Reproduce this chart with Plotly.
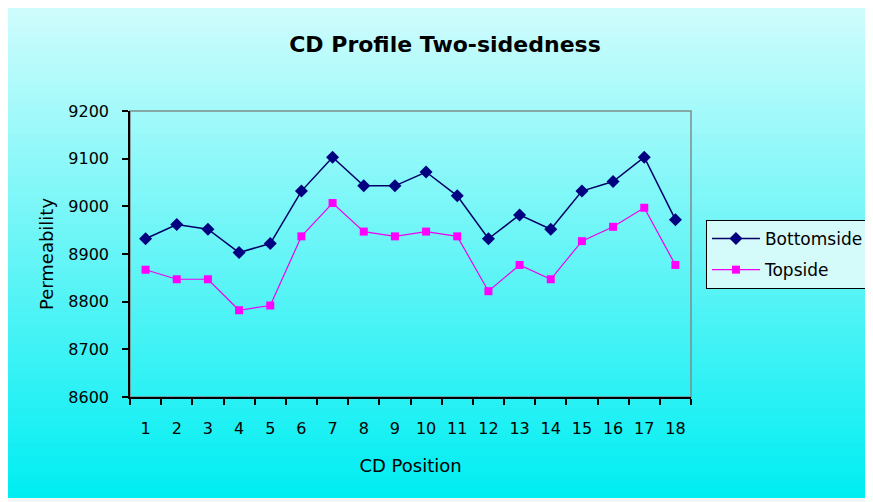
import plotly.graph_objects as go

positions = [str(i) for i in range(1, 19)]
bottomside = [8932, 8962, 8952, 8903, 8922, 9032, 9103, 9043, 9043, 9072, 9022, 8932, 8982, 8952, 9032, 9052, 9103, 8972]
topside = [8867, 8847, 8847, 8782, 8792, 8937, 9007, 8947, 8937, 8947, 8937, 8822, 8877, 8847, 8927, 8957, 8997, 8877]

# page is offset by the 8px body margin; work in figure coordinates
OFF = 8
W, H = 873, 494
L, R, T, B = 130 - OFF, 693 - OFF, 111 - OFF, 397 - OFF

def px_to_paper_x(px):
    return (px - L) / (R - L)

def px_to_paper_y(py):
    return (B - py) / (B - T)

fig = go.Figure()
fig.add_trace(go.Scatter(x=positions, y=bottomside, name="Bottomside", mode="lines+markers",
                         legendgroup="b",
                         line=dict(color="#000066", width=1.5),
                         marker=dict(symbol="diamond", size=10, color="#000080")))
fig.add_trace(go.Scatter(x=positions, y=topside, name="Topside", mode="lines+markers",
                         legendgroup="t",
                         line=dict(color="#ee00ee", width=1.2),
                         marker=dict(symbol="square", size=8, color="#ff00ff")))

# gradient background strips
shapes = []
top_c = (206, 252, 252)
bot_c = (0, 238, 242)
y_top, y_bot = 0, 498 - OFF
n = 70
for i in range(n):
    t = i / (n - 1)
    c = tuple(round(top_c[k] + (bot_c[k] - top_c[k]) * t) for k in range(3))
    py0 = y_top + (y_bot - y_top) * i / n
    py1 = min(y_top + (y_bot - y_top) * (i + 1) / n + 0.6, y_bot)
    shapes.append(dict(type="rect", xref="paper", yref="paper", layer="below",
                       x0=px_to_paper_x(-2), x1=px_to_paper_x(W + 10),
                       y0=px_to_paper_y(py1), y1=px_to_paper_y(py0),
                       line=dict(width=0), fillcolor="rgb(%d,%d,%d)" % c))
# grey plot-area frame (top/right)
shapes.append(dict(type="rect", xref="paper", yref="paper", layer="below",
                   x0=0, x1=1, y0=0, y1=1, line=dict(color="#7f8c8c", width=1.5)))

tick_font = dict(family="DejaVu Sans", size=16, color="black")

fig.update_layout(
    width=W, height=H,
    margin=dict(l=L, r=W - R, t=T, b=H - B),
    paper_bgcolor="#f4f6f6",
    plot_bgcolor="rgba(0,0,0,0)",
    shapes=shapes,
    font=dict(family="DejaVu Sans", size=16, color="black"),
    title=dict(text="<b>CD Profile Two-sidedness</b>", x=(445 - OFF) / W, xanchor="center",
               y=1 - (44.5 - OFF) / H, yanchor="middle",
               font=dict(family="DejaVu Sans", size=22, color="black")),
    xaxis=dict(type="category", range=[-0.5, 17.5], showline=True, linecolor="black", linewidth=1.5,
               ticks="outside", tickson="boundaries", ticklen=6, tickcolor="black", tickwidth=1.5,
               tickfont=tick_font, ticklabelstandoff=16,
               showgrid=False, zeroline=False,
               title=dict(text="CD Position", standoff=22,
                          font=dict(family="DejaVu Sans", size=18))),
    yaxis=dict(range=[8600, 9200], dtick=100, showline=True, linecolor="black", linewidth=1.5,
               ticks="outside", ticklen=6, tickcolor="black", tickwidth=1.5,
               tickfont=tick_font, ticklabelstandoff=10,
               showgrid=False, zeroline=False,
               title=dict(text="Permeability", standoff=10,
                          font=dict(family="DejaVu Sans", size=18))),
    legend=dict(x=px_to_paper_x(708 - OFF), y=px_to_paper_y(220 - OFF), xanchor="left", yanchor="top",
                bgcolor="#d4fafa", bordercolor="black", borderwidth=1,
                font=dict(family="DejaVu Sans", size=17), tracegroupgap=6, itemwidth=48),
    showlegend=True,
)

fig.write_html("out.html")
